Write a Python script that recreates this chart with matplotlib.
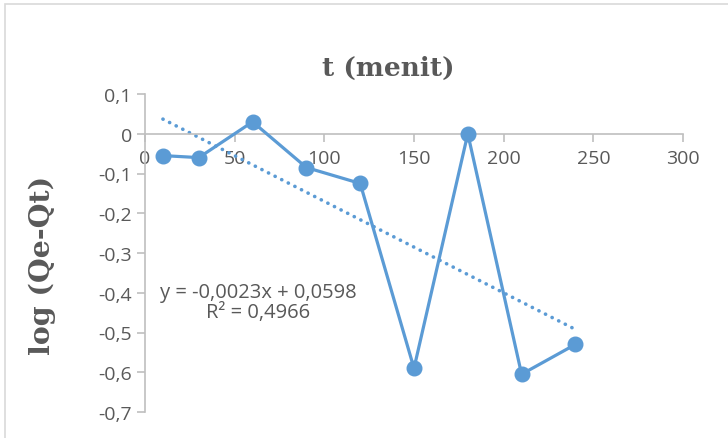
import numpy as np
import matplotlib
matplotlib.use("Agg")
import matplotlib.pyplot as plt
from matplotlib.patches import Rectangle

# data
t_menit = [10, 30, 60, 90, 120, 150, 180, 210, 240]
log_qe_qt = [-0.055, -0.06, 0.03, -0.085, -0.125, -0.59, 0.0, -0.605, -0.53]
slope = -0.0023
intercept = 0.0598
eq_text = "y = -0,0023x + 0,0598\nR² = 0,4966"

x_ticks = [0, 50, 100, 150, 200, 250, 300]
y_ticks = [0.1, 0, -0.1, -0.2, -0.3, -0.4, -0.5, -0.6, -0.7]
y_labels = ["0,1", "0", "-0,1", "-0,2", "-0,3", "-0,4", "-0,5", "-0,6", "-0,7"]

blue = "#5B9BD5"
grey = "#BFBFBF"
txt = "#595959"

fig = plt.figure(figsize=(7.28, 4.39), dpi=100)
fig.patches.append(Rectangle((5 / 728, -0.1), 1.2, 1 - 5 / 439 + 0.1,
                             transform=fig.transFigure, fill=False,
                             edgecolor="#D9D9D9", linewidth=1.2))

ax = fig.add_axes([145 / 728, 1 - 413 / 439, (683 - 145) / 728, (413 - 95) / 439])

ax.plot(t_menit, log_qe_qt, color=blue, linewidth=2.3, marker="o",
        markersize=10.5, zorder=3)

# linear trendline
tx = np.array([t_menit[0], t_menit[-1]])
ax.plot(tx, slope * tx + intercept, color=blue, linewidth=2.6,
        linestyle=(0, (0.05, 2.0)), dash_capstyle="round", zorder=2)

ax.set_xlim(0, 300)
ax.set_ylim(-0.7, 0.1)
ax.set_xticks(x_ticks)
ax.set_yticks(y_ticks)
ax.set_xticklabels([str(v) for v in x_ticks])
ax.set_yticklabels(y_labels)

ax.spines["top"].set_visible(False)
ax.spines["right"].set_visible(False)
ax.spines["bottom"].set_position(("data", 0))
ax.spines["left"].set_color(grey)
ax.spines["bottom"].set_color(grey)
ax.spines["left"].set_linewidth(1.2)
ax.spines["bottom"].set_linewidth(1.2)
ax.tick_params(axis="both", colors=grey, labelcolor=txt, labelsize=14,
               length=6, width=1.2)
ax.tick_params(axis="x", pad=5)
for lab in ax.get_xticklabels() + ax.get_yticklabels():
    lab.set_fontfamily("Open Sans")
ax.patch.set_alpha(0)

ax.text(63, -0.423, eq_text, ha="center", va="center", fontsize=14.5,
        color=txt, family="Open Sans", linespacing=1.05)

fig.text(388 / 728, 1 - 68 / 439, "t (menit)", ha="center", va="center",
         fontsize=19, fontweight="bold", family="DejaVu Serif", color=txt)
fig.text(42 / 728, 1 - 265 / 439, "log (Qe-Qt)", ha="center", va="center",
         rotation=90, fontsize=20.5, fontweight="bold", family="DejaVu Serif",
         color=txt)

fig.savefig("out.png", dpi=100)
